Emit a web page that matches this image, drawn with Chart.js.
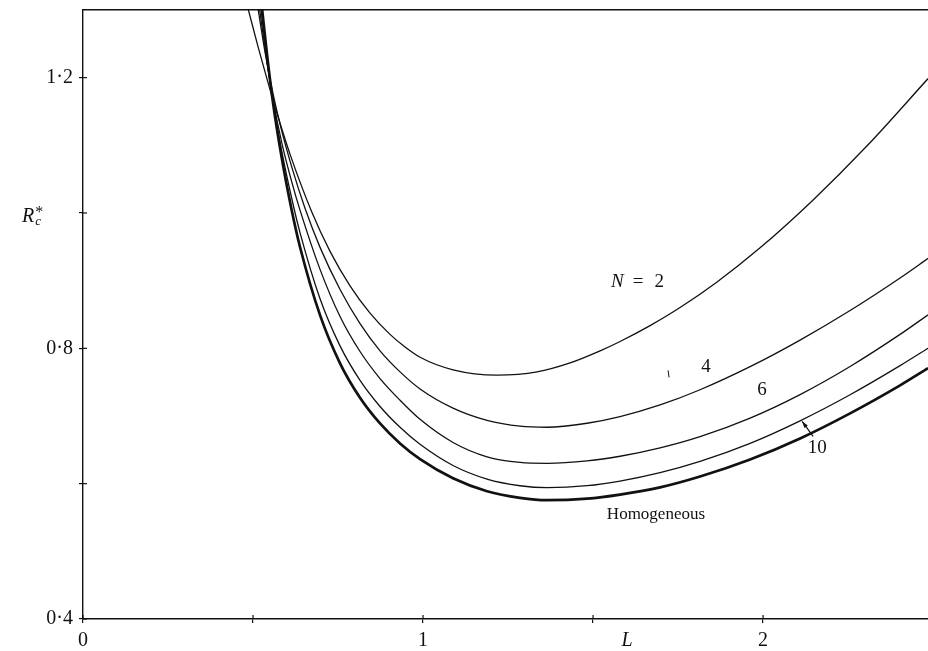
<!DOCTYPE html>
<html>
<head>
<meta charset="utf-8">
<script src="https://cdn.jsdelivr.net/npm/chart.js@4/dist/chart.umd.min.js"></script>
<style>
  html, body { margin: 0; padding: 0; background: #fff; overflow: hidden; }
  #wrap { width: 928px; height: 651px; position: relative; }
</style>
</head>
<body>
<div id="wrap"><canvas id="c" width="928" height="651"></canvas></div>
<script>
// ---- Data (L, R_c*) ----
const L_N2 = [0.4853, 0.5147, 0.5412, 0.5647, 0.6088, 0.6735, 0.7265, 0.7853, 0.8441, 0.9029, 0.9471, 0.9912, 1.0882, 1.2176, 1.3353, 1.4324, 1.5206, 1.5794, 1.6676, 1.7559, 1.8647, 1.9912, 2.1441, 2.3059, 2.4853];
const R_N2 = [1.3022, 1.2459, 1.1979, 1.1570, 1.0870, 1.0006, 0.9433, 0.8923, 0.8520, 0.8206, 0.8019, 0.7868, 0.7683, 0.7605, 0.7652, 0.7784, 0.7962, 0.8101, 0.8336, 0.8603, 0.8981, 0.9485, 1.0178, 1.0993, 1.1987];

const L_N4 = [0.5147, 0.5353, 0.5588, 0.5824, 0.6147, 0.6529, 0.6971, 0.7559, 0.8147, 0.8735, 0.9324, 0.9912, 1.0882, 1.1882, 1.2853, 1.3647, 1.4824, 1.5794, 1.6971, 1.8147, 1.9618, 2.1088, 2.2559, 2.4029, 2.4853];
const R_N4 = [1.3022, 1.2379, 1.1763, 1.1253, 1.0667, 1.0070, 0.9492, 0.8870, 0.8366, 0.7963, 0.7652, 0.7400, 0.7117, 0.6936, 0.6850, 0.6834, 0.6893, 0.6991, 0.7163, 0.7388, 0.7729, 0.8122, 0.8559, 0.9040, 0.9330];

const L_N6 = [0.5191, 0.5382, 0.5588, 0.5853, 0.6147, 0.6382, 0.6971, 0.7559, 0.8147, 0.8735, 0.9324, 0.9912, 1.0882, 1.1882, 1.2853, 1.3647, 1.4824, 1.5794, 1.6971, 1.8147, 1.9618, 2.1088, 2.2559, 2.4029, 2.4853];
const R_N6 = [1.3022, 1.2329, 1.1676, 1.1022, 1.0445, 1.0042, 0.9167, 0.8471, 0.7953, 0.7553, 0.7233, 0.6951, 0.6609, 0.6397, 0.6314, 0.6301, 0.6336, 0.6405, 0.6529, 0.6695, 0.6969, 0.7317, 0.7732, 0.8206, 0.8496];

const L_N10 = [0.5235, 0.5382, 0.5588, 0.5853, 0.6147, 0.6382, 0.6971, 0.7559, 0.8147, 0.8735, 0.9324, 0.9912, 1.0882, 1.1882, 1.2853, 1.3647, 1.4824, 1.5794, 1.6971, 1.8147, 1.9618, 2.1088, 2.2559, 2.4029, 2.4853];
const R_N10 = [1.3022, 1.2385, 1.1639, 1.0892, 1.0196, 0.9710, 0.8732, 0.8036, 0.7526, 0.7141, 0.6833, 0.6581, 0.6268, 0.6067, 0.5969, 0.5941, 0.5970, 0.6039, 0.6163, 0.6329, 0.6596, 0.6929, 0.7314, 0.7744, 0.8002];

const L_HOM = [0.5265, 0.5412, 0.5588, 0.5853, 0.6147, 0.6382, 0.6971, 0.7559, 0.8147, 0.8735, 0.9324, 0.9912, 1.0882, 1.1882, 1.2853, 1.3647, 1.4824, 1.5794, 1.6971, 1.8147, 1.9618, 2.1088, 2.2559, 2.4029, 2.4853];
const R_HOM = [1.3022, 1.2341, 1.1630, 1.0790, 1.0019, 0.9498, 0.8490, 0.7779, 0.7270, 0.6890, 0.6594, 0.6363, 0.6080, 0.5889, 0.5791, 0.5756, 0.5779, 0.5839, 0.5945, 0.6105, 0.6357, 0.6668, 0.7039, 0.7453, 0.7707];

const X_TICKS = [0, 0.5, 1, 1.5, 2];
const X_TICK_LABELS = ['0', '', '1', '', '2'];
const Y_TICKS = [0.4, 0.6, 0.8, 1.0, 1.2];
const Y_TICK_LABELS = ['0·4', '', '0·8', '', '1·2'];

// curve labels: [text, L, R]
const CURVE_LABELS = [['4', 1.832, 0.772], ['6', 1.997, 0.739], ['10', 2.159, 0.653], ['Homogeneous', 1.685, 0.554]];
const N2_LABEL = [1.624, 0.898];
const ARROW_10 = [[2.147, 0.670], [2.115, 0.692]];
const STRAY_MARK = [[1.7206, 0.7674], [1.7235, 0.7570]];
const AXIS_L_POS = 1.6;
const AXIS_R_POS = 0.994;

const SERIF = '"Liberation Serif", "DejaVu Serif", serif';

function pts(xs, ys) { return xs.map((x, i) => ({ x: x, y: ys[i] })); }

function ds(label, xs, ys, w) {
  return {
    label: label, data: pts(xs, ys), borderColor: '#111', borderWidth: w,
    pointRadius: 0, fill: false, cubicInterpolationMode: 'monotone'
  };
}

const annot = {
  id: 'annot',
  afterDatasetsDraw(chart) {
    const ctx = chart.ctx, xs = chart.scales.x, ys = chart.scales.y;
    const ca = chart.chartArea;
    ctx.save();
    ctx.fillStyle = '#111';
    ctx.strokeStyle = '#111';
    // inward halves of tick marks
    ctx.lineWidth = 1.2;
    X_TICKS.forEach(v => {
      const px = xs.getPixelForValue(v);
      ctx.beginPath(); ctx.moveTo(px, ca.bottom); ctx.lineTo(px, ca.bottom - 4); ctx.stroke();
    });
    Y_TICKS.forEach(v => {
      const py = ys.getPixelForValue(v);
      ctx.beginPath(); ctx.moveTo(ca.left, py); ctx.lineTo(ca.left + 4, py); ctx.stroke();
    });
    // curve labels
    ctx.textAlign = 'center';
    ctx.textBaseline = 'middle';
    CURVE_LABELS.forEach(([t, l, r]) => {
      ctx.font = (t === 'Homogeneous' ? '17px ' : '19px ') + SERIF;
      ctx.fillText(t, xs.getPixelForValue(l), ys.getPixelForValue(r));
    });
    // N = 2
    const nx = xs.getPixelForValue(N2_LABEL[0]), ny = ys.getPixelForValue(N2_LABEL[1]);
    ctx.textAlign = 'center';
    ctx.font = 'italic 19px ' + SERIF;
    ctx.fillText('N', nx - 18, ny);
    ctx.font = '19px ' + SERIF;
    ctx.fillText('=', nx + 3, ny);
    ctx.fillText('2', nx + 24, ny);
    // arrow for 10
    const a0x = xs.getPixelForValue(ARROW_10[0][0]), a0y = ys.getPixelForValue(ARROW_10[0][1]);
    const a1x = xs.getPixelForValue(ARROW_10[1][0]), a1y = ys.getPixelForValue(ARROW_10[1][1]);
    ctx.lineWidth = 1.2;
    ctx.beginPath(); ctx.moveTo(a0x, a0y); ctx.lineTo(a1x, a1y); ctx.stroke();
    const ang = Math.atan2(a1y - a0y, a1x - a0x);
    ctx.beginPath();
    ctx.moveTo(a1x, a1y);
    ctx.lineTo(a1x - 7 * Math.cos(ang - 0.3), a1y - 7 * Math.sin(ang - 0.3));
    ctx.lineTo(a1x - 7 * Math.cos(ang + 0.3), a1y - 7 * Math.sin(ang + 0.3));
    ctx.closePath(); ctx.fill();
    // small stray mark near "4"
    ctx.lineWidth = 1;
    ctx.beginPath();
    ctx.moveTo(xs.getPixelForValue(STRAY_MARK[0][0]), ys.getPixelForValue(STRAY_MARK[0][1]));
    ctx.lineTo(xs.getPixelForValue(STRAY_MARK[1][0]), ys.getPixelForValue(STRAY_MARK[1][1]));
    ctx.stroke();
    // axis label L
    ctx.textAlign = 'center';
    ctx.font = 'italic 20px ' + SERIF;
    ctx.fillText('L', xs.getPixelForValue(AXIS_L_POS), ca.bottom + 22);
    // axis label R_c*
    const ry = ys.getPixelForValue(AXIS_R_POS);
    ctx.textAlign = 'left';
    ctx.font = 'italic 20px ' + SERIF;
    const rx = 22;
    ctx.fillText('R', rx, ry);
    const wR = ctx.measureText('R').width;
    ctx.font = 'italic 13px ' + SERIF;
    ctx.fillText('c', rx + wR + 1, ry + 5);
    ctx.font = '16px ' + SERIF;
    ctx.fillText('*', rx + wR + 1, ry - 4);
    ctx.restore();
  }
};

new Chart(document.getElementById('c'), {
  type: 'line',
  data: {
    datasets: [
      ds('N = 2', L_N2, R_N2, 1.3),
      ds('N = 4', L_N4, R_N4, 1.3),
      ds('N = 6', L_N6, R_N6, 1.3),
      ds('N = 10', L_N10, R_N10, 1.3),
      ds('Homogeneous', L_HOM, R_HOM, 2.7)
    ]
  },
  options: {
    responsive: false,
    animation: false,
    layout: { padding: { left: 0, right: 0, top: 0, bottom: 0 } },
    plugins: { legend: { display: false }, tooltip: { enabled: false } },
    scales: {
      x: {
        type: 'linear', position: 'bottom', min: 0, max: 2.485,
        afterBuildTicks: s => { s.ticks = X_TICKS.map(v => ({ value: v })); },
        afterFit: s => { s.height = 32; s.paddingLeft = 0; s.paddingRight = 0; },
        ticks: {
          autoSkip: false, maxRotation: 0, color: '#111', padding: 6,
          font: { family: SERIF, size: 20 },
          callback: (v) => { const i = X_TICKS.indexOf(v); return i >= 0 ? X_TICK_LABELS[i] : ''; }
        },
        grid: { drawOnChartArea: false, drawTicks: true, tickLength: 4, color: '#111', lineWidth: 1.2 },
        border: { display: true, color: '#111', width: 1.4 }
      },
      x2: {
        type: 'linear', position: 'top', min: 0, max: 2.485,
        afterFit: s => { s.height = 10; },
        ticks: { display: false },
        grid: { display: false, drawTicks: false },
        border: { display: true, color: '#111', width: 1.6 }
      },
      y: {
        type: 'linear', position: 'left', min: 0.4, max: 1.3,
        afterBuildTicks: s => { s.ticks = Y_TICKS.map(v => ({ value: v })); },
        afterFit: s => { s.width = 83; s.paddingTop = 0; s.paddingBottom = 0; },
        ticks: {
          autoSkip: false, color: '#111', padding: 6,
          font: { family: SERIF, size: 20 },
          callback: (v) => { const i = Y_TICKS.findIndex(t => Math.abs(t - v) < 1e-9); return i >= 0 ? Y_TICK_LABELS[i] : ''; }
        },
        grid: { drawOnChartArea: false, drawTicks: true, tickLength: 4, color: '#111', lineWidth: 1.2 },
        border: { display: true, color: '#111', width: 1.4 }
      }
    }
  },
  plugins: [annot]
});
</script>
</body>
</html>
